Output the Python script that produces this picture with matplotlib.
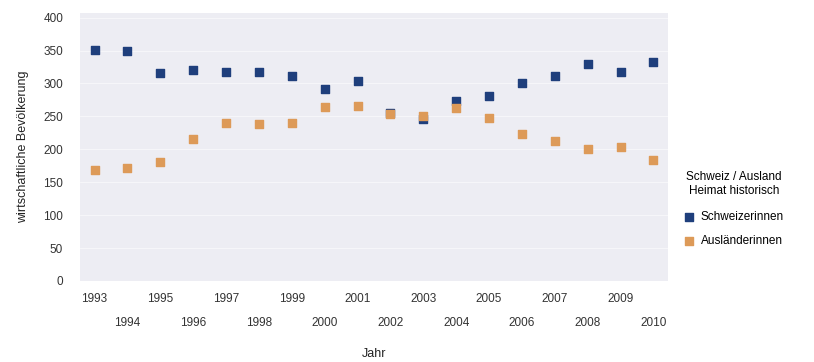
import matplotlib
matplotlib.use("Agg")
import matplotlib.pyplot as plt
from matplotlib.ticker import FixedLocator

plt.rcParams['font.family'] = ['Liberation Sans', 'DejaVu Sans']

# data
jahre = list(range(1993, 2011))
schweizer = [351, 349, 316, 320, 318, 318, 312, 291, 303, 255, 246, 273, 281, 300, 312, 329, 318, 333]
auslaender = [169, 172, 181, 216, 240, 238, 240, 264, 265, 253, 251, 263, 247, 223, 212, 200, 204, 184]
serien = ["Schweizerinnen", "Ausländerinnen"]
farben = ["#1f3f7c", "#dd9a58"]

fig = plt.figure(figsize=(8.14, 3.62), dpi=100)
ax = fig.add_axes([0.098, 0.224, 0.723, 0.74])
ax.set_facecolor("#ededf3")

ax.scatter(jahre, schweizer, marker="s", s=32, color=farben[0], label=serien[0], zorder=3)
ax.scatter(jahre, auslaender, marker="s", s=32, color=farben[1], label=serien[1], zorder=3)

ax.set_xlim(1992.55, 2010.45)
ax.set_ylim(0, 407)
ax.set_yticks(range(0, 401, 50))
ax.grid(axis="y", color="white", linewidth=0.6, alpha=0.6)
ax.set_axisbelow(True)

# odd years on the first row, even years on the second
ax.xaxis.set_major_locator(FixedLocator([j for j in jahre if j % 2 == 1]))
ax.xaxis.set_minor_locator(FixedLocator([j for j in jahre if j % 2 == 0]))
ax.set_xticklabels([str(j) for j in jahre if j % 2 == 1])
ax.set_xticklabels([str(j) for j in jahre if j % 2 == 0], minor=True)
ax.tick_params(axis="x", which="major", length=0, pad=9, labelsize=8.5, colors="#333333")
ax.tick_params(axis="x", which="minor", length=0, pad=26, labelsize=8.5, colors="#333333")
ax.tick_params(axis="y", length=0, pad=12, labelsize=8.5, colors="#333333")

for s in ax.spines.values():
    s.set_visible(False)

ax.set_xlabel("Jahr", fontsize=9, color="#222222")
ax.xaxis.set_label_coords(0.5, -0.25)
ax.set_ylabel("wirtschaftliche Bevölkerung", fontsize=9, labelpad=10, color="#222222")

leg = fig.legend(title="Schweiz / Ausland\nHeimat historisch", loc="upper left",
                 bbox_to_anchor=(0.835, 0.54), frameon=False, fontsize=8.5,
                 title_fontsize=8.5, handletextpad=0.6, markerscale=1.0,
                 borderaxespad=0, handlelength=0.8, labelspacing=1.0)
leg.get_title().set_multialignment("center")
leg._legend_box.sep = 10

fig.savefig("out.png", dpi=100)
